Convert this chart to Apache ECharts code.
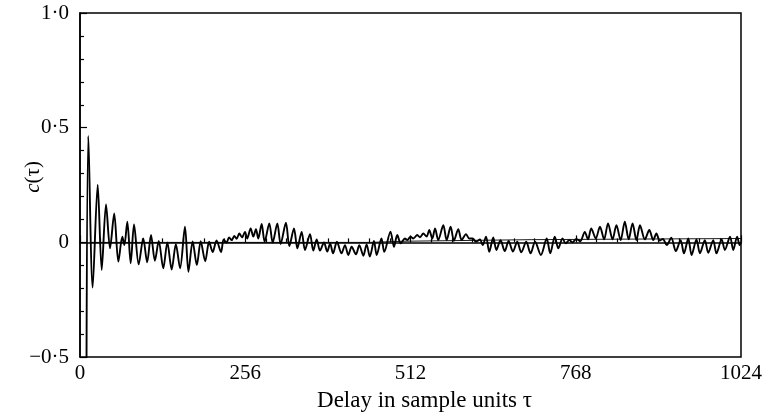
<!DOCTYPE html>
<html>
<head>
<meta charset="utf-8">
<script src="https://cdn.jsdelivr.net/npm/echarts@6/dist/echarts.min.js"></script>
<style>
html,body{margin:0;padding:0;background:#fff;}
#chart{width:765px;height:417px;}
</style>
</head>
<body>
<div id="chart"></div>
<script>
// Delay values (tau) and correlation values c(tau) (local extrema)
const delays = [
  10, 12.9, 19.6, 27.4, 33.6, 40.3, 46.5, 53, 59.4, 65.6, 68.7, 73.3, 78.5, 83.7, 90.9, 98, 104, 110, 116, 122,
  129, 135.3, 142, 148.5, 155, 162.6, 168, 174.5, 181, 187, 194, 200, 205.5, 211.5, 218.5, 222.5, 227, 231, 235, 239,
  242.7, 246.8, 251, 255.6, 259, 264.4, 268.5, 272.6, 276.2, 281.4, 286, 293.3, 298.5, 305.7, 310.8, 319, 324.3, 331.5, 336.7, 343.4,
  348.5, 356.3, 361.4, 366.6, 371.8, 378, 383, 387.5, 392, 398, 405, 410.5, 415.6, 420.8, 427.5, 432.7, 438.9, 444, 449, 455.4,
  459.6, 467, 471.4, 481, 486.4, 491.5, 496.8, 503.4, 507, 512.2, 516.3, 522.5, 526.7, 531.8, 537, 541, 545.8, 550, 555, 562.8,
  568, 574.2, 579.3, 586, 591.2, 598, 603, 608.3, 613.4, 619.6, 623.8, 629, 634, 640.2, 645, 651.5, 658, 664, 670.7, 677.4,
  683.6, 691.3, 698, 705, 714, 723, 728.5, 735.5, 741, 747.5, 752.5, 758, 763, 769, 775, 782, 787, 792, 799, 805.5,
  812, 818, 825, 831, 837.5, 844, 850, 856, 862, 867.5, 875, 882, 888, 893, 898, 903, 909, 916, 923, 930.5,
  935.6, 942.3, 947.5, 955, 960.4, 968, 973.3, 981, 986, 994, 999, 1007, 1012, 1018, 1022, 1024
];
const correlation = [
  -0.6, 0.464, -0.197, 0.252, -0.12, 0.165, -0.026, 0.126, -0.084, 0.025, -0.012, 0.09, -0.091, 0.078, -0.096, 0.017, -0.087, 0.032, -0.08, 0.006,
  -0.113, 0.0, -0.118, -0.008, -0.113, 0.068, -0.128, 0.004, -0.099, 0.005, -0.082, 0.003, -0.042, 0.008, -0.042, 0.013, -0.001, 0.022, 0.01, 0.028,
  0.016, 0.039, 0.022, 0.046, 0.017, 0.061, 0.025, 0.057, 0.017, 0.08, 0.003, 0.083, -0.001, 0.083, -0.007, 0.086, -0.016, 0.061, -0.026, 0.046,
  -0.033, 0.036, -0.036, 0.013, -0.036, 0.0, -0.04, -0.005, -0.048, 0.003, -0.048, -0.012, -0.055, -0.019, -0.052, -0.012, -0.058, -0.009, -0.062, 0.006,
  -0.055, 0.017, -0.041, 0.047, -0.019, 0.032, -0.004, 0.017, 0.01, 0.025, 0.017, 0.032, 0.022, 0.039, 0.025, 0.054, 0.017, 0.061, 0.01, 0.075,
  0.01, 0.068, 0.007, 0.057, 0.01, 0.036, 0.017, 0.017, 0.003, 0.013, -0.012, 0.025, -0.041, 0.022, -0.033, 0.01, -0.038, 0.006, -0.04, 0.003,
  -0.043, 0.003, -0.048, 0.003, -0.055, 0.017, -0.048, 0.025, -0.026, 0.017, -0.004, 0.01, 0.0, 0.015, 0.005, 0.046, 0.013, 0.061, 0.017, 0.068,
  0.013, 0.083, 0.013, 0.075, 0.01, 0.09, 0.013, 0.083, 0.01, 0.075, 0.013, 0.054, 0.01, 0.039, 0.008, 0.015, -0.012, 0.02, -0.038, 0.01,
  -0.048, 0.017, -0.055, 0.013, -0.048, 0.01, -0.045, 0.01, -0.048, 0.013, -0.033, 0.025, -0.033, 0.025, -0.012, 0.0
];
// Thin reference (mean) line
const baseDelays = [15, 200, 450, 500, 700, 1024];
const baseValues = [0, 0, 0, 0.005, 0.012, 0.017];
// Tick labels
const xTicks = [0, 256, 512, 768, 1024];
const yTicks = [-0.5, 0, 0.5, 1.0];

const mainData = delays.map((d, i) => [d, correlation[i]]);
const baseData = baseDelays.map((d, i) => [d, baseValues[i]]);

const serif = 'Liberation Serif';
function fmtY(v) {
  if (v === 0) return '0';
  return v.toFixed(1).replace('.', '\u00B7').replace('-', '\u2212');
}

const chart = echarts.init(document.getElementById('chart'), null, {renderer: 'canvas'});
chart.setOption({
  animation: false,
  backgroundColor: '#fff',
  grid: {left: 80, right: 24, top: 13, bottom: 59, show: true, borderColor: '#000', borderWidth: 1.5, backgroundColor: 'transparent'},
  xAxis: {
    type: 'value', min: xTicks[0], max: xTicks[xTicks.length - 1], interval: 256,
    name: 'Delay in sample units \u03C4', nameLocation: 'middle', nameGap: 30,
    nameTextStyle: {fontFamily: serif, fontSize: 23, color: '#000', padding: [0, 0, 0, 28]},
    axisLine: {show: true, lineStyle: {color: '#000', width: 1.5}},
    axisTick: {show: true, inside: true, length: 7, lineStyle: {color: '#000', width: 1.2}},
    minorTick: {show: true, splitNumber: 8, length: 4, lineStyle: {color: '#000', width: 1.2}},
    splitLine: {show: false},
    axisLabel: {fontFamily: serif, fontSize: 21, color: '#000', margin: 6,
      formatter: v => String(v)}
  },
  yAxis: {
    type: 'value', min: yTicks[0], max: yTicks[yTicks.length - 1], interval: 0.5,
    axisLine: {show: true, lineStyle: {color: '#000', width: 1.5}},
    axisTick: {show: true, inside: true, length: 7, lineStyle: {color: '#000', width: 1.2}},
    minorTick: {show: true, splitNumber: 5, length: 4, lineStyle: {color: '#000', width: 1.2}},
    splitLine: {show: false},
    axisLabel: {fontFamily: serif, fontSize: 21, color: '#000', margin: 11, formatter: fmtY}
  },
  graphic: [{
    type: 'text', x: 33, y: 177, rotation: Math.PI / 2,
    style: {
      text: '{i|c}(\u03C4)', align: 'center', verticalAlign: 'middle',
      font: '21px "Liberation Serif"', fill: '#000',
      rich: {i: {fontStyle: 'italic', fontFamily: serif, fontSize: 21, fill: '#000'}}
    }
  }],
  series: [
    {type: 'line', data: baseData, showSymbol: false, lineStyle: {color: '#000', width: 0.9}, z: 2},
    {type: 'line', data: mainData, showSymbol: false, smooth: 0.3, lineStyle: {color: '#000', width: 1.9}, z: 3}
  ]
});
</script>
</body>
</html>
